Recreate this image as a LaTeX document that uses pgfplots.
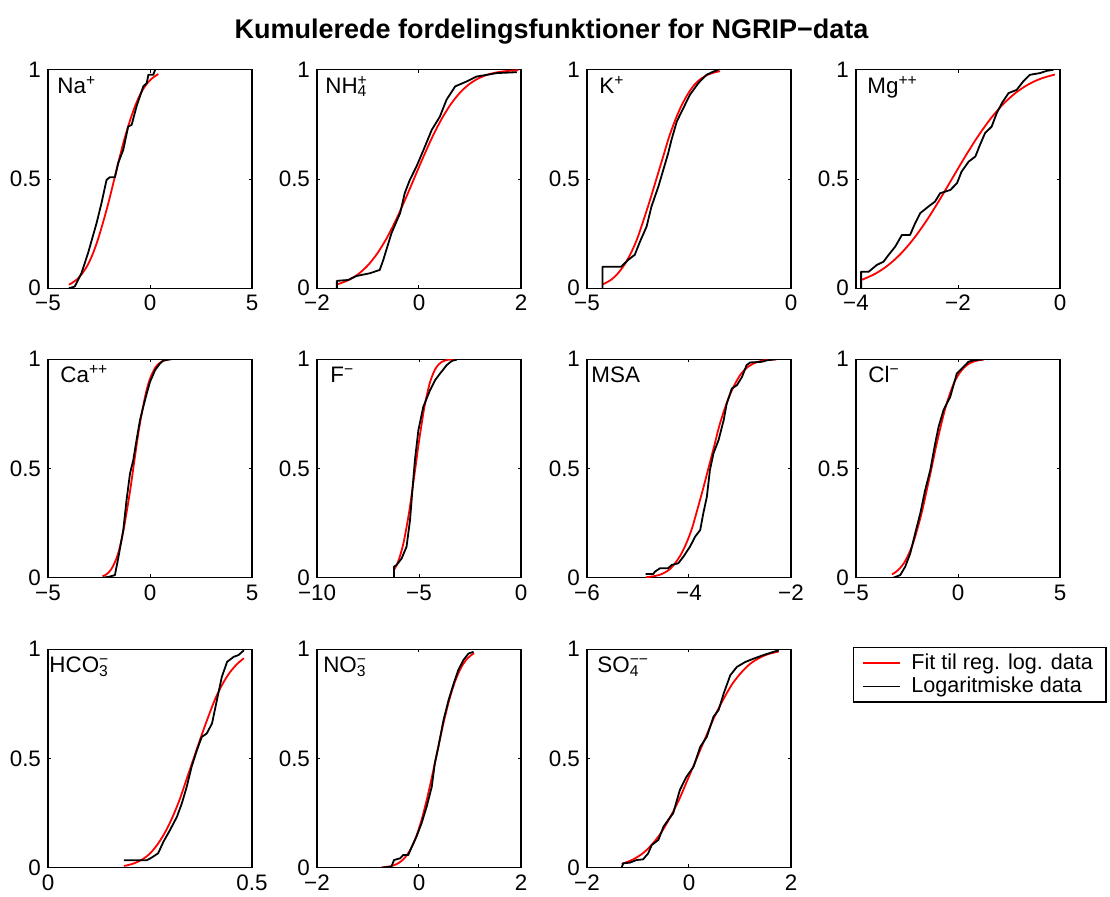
\documentclass[border=0pt]{standalone}
\usepackage{fontspec}
\setmainfont{Liberation Sans}
\usepackage{pgfplots}
\pgfplotsset{compat=1.18}

\newcommand\tfont{\fontsize{11.2}{13}\selectfont}
\newcommand\lfont{\fontsize{10.8}{12.5}\selectfont}

\pgfplotsset{
  panel/.style={
    scale only axis, width=102pt, height=109.25pt, anchor=south west,
    ymin=0, ymax=1, ytick={0,0.5,1}, yticklabels={0,0.5,1},
    tick align=inside, tick pos=both, major tick length=1.6pt,
    axis line style={line width=0.6pt},
    every tick/.style={black, line width=0.5pt},
    tick label style={font=\tfont},
    clip=true,
  },
  fit/.style={red, line width=0.9pt, smooth, no marks},
  emp/.style={black, line width=0.9pt, no marks, line join=round},
}
\tikzset{lbl/.style={anchor=base west, font=\tfont, inner sep=0pt}}

\begin{document}
\begin{tikzpicture}
\path[use as bounding box] (0,0) rectangle (555pt,448.5pt);

\node[anchor=base, font=\fontsize{13.5}{16}\selectfont\bfseries] at (275.75pt,429pt)
  {Kumulerede fordelingsfunktioner for NGRIP−data};

% ---------- row 1 ----------
\begin{axis}[panel, at={(24pt,304.35pt)}, xmin=-5, xmax=5,
  xtick={-5,0,5}, xticklabels={−5,0,5}]
\addplot[fit] coordinates {(-3.98,0.0168) (-3.85,0.02275) (-3.59,0.04006) (-3.33,0.06681)
 (-3.06,0.10565) (-2.80,0.15866) (-2.54,0.22663) (-2.28,0.30854) (-2.01,0.40129)
 (-1.75,0.5) (-1.49,0.59871) (-1.23,0.69146) (-0.96,0.77337) (-0.70,0.84134)
 (-0.44,0.89435) (-0.18,0.93319) (0.09,0.95994) (0.35,0.97725) (0.41,0.9802)};
\addplot[emp] coordinates {(-3.98,0) (-3.69,0.008) (-3.36,0.069) (-3.03,0.163) (-2.62,0.298)
 (-2.38,0.389) (-2.13,0.496) (-1.97,0.508) (-1.72,0.508) (-1.56,0.573) (-1.31,0.634)
 (-1.07,0.740) (-0.90,0.748) (-0.66,0.832) (-0.33,0.924) (-0.16,0.939) (-0.08,0.977)
 (0.16,0.977) (0.25,1.0)};
\node[lbl] at (axis description cs:0.044,0.892) {Na\textsuperscript{+}};
\end{axis}

\begin{axis}[panel, at={(158.5pt,304.35pt)}, xmin=-2, xmax=2,
  xtick={-2,0,2}, xticklabels={−2,0,2}]
\addplot[fit] coordinates {(-1.62,0.0174) (-1.54,0.02275) (-1.36,0.04006) (-1.18,0.06681)
 (-1.00,0.10565) (-0.82,0.15866) (-0.64,0.22663) (-0.46,0.30854) (-0.28,0.40129)
 (-0.10,0.5) (0.08,0.59871) (0.26,0.69146) (0.44,0.77337) (0.62,0.84134) (0.80,0.89435)
 (0.98,0.93319) (1.16,0.95994) (1.34,0.97725) (1.52,0.98778) (1.70,0.99379)
 (1.88,0.99702) (1.95,0.9978)};
\addplot[emp] coordinates {(-1.61,0) (-1.61,0.034) (-1.39,0.038) (-1.23,0.056) (-0.96,0.069)
 (-0.77,0.084) (-0.70,0.130) (-0.54,0.252) (-0.37,0.344) (-0.28,0.435) (-0.18,0.496)
 (-0.05,0.557) (0.09,0.634) (0.25,0.725) (0.41,0.786) (0.54,0.863) (0.71,0.924)
 (0.94,0.947) (1.13,0.969) (1.53,0.985) (1.92,0.989)};
\node[lbl] at (axis description cs:0.039,0.892) {NH\rlap{\textsuperscript{+}}\textsubscript{4}};
\end{axis}

\begin{axis}[panel, at={(293.5pt,304.35pt)}, xmin=-5, xmax=0,
  xtick={-5,0}, xticklabels={−5,0}]
\addplot[fit] coordinates {(-4.61,0.0188) (-4.56,0.02275) (-4.40,0.04006) (-4.25,0.06681)
 (-4.09,0.10565) (-3.93,0.15866) (-3.77,0.22663) (-3.62,0.30854) (-3.46,0.40129)
 (-3.30,0.5) (-3.14,0.59871) (-2.99,0.69146) (-2.83,0.77337) (-2.67,0.84134)
 (-2.51,0.89435) (-2.36,0.93319) (-2.20,0.95994) (-2.04,0.97725) (-1.88,0.98778)
 (-1.74,0.9934)};
\addplot[emp] coordinates {(-4.62,0) (-4.62,0.099) (-4.16,0.099) (-3.99,0.130) (-3.83,0.153)
 (-3.70,0.214) (-3.54,0.282) (-3.42,0.374) (-3.25,0.466) (-3.13,0.542) (-3.01,0.618)
 (-2.93,0.679) (-2.80,0.763) (-2.64,0.824) (-2.48,0.885) (-2.27,0.939) (-2.07,0.977)
 (-1.90,0.992) (-1.78,1.0)};
\node[lbl] at (axis description cs:0.059,0.892) {K\textsuperscript{+}};
\end{axis}

\begin{axis}[panel, at={(428pt,304.35pt)}, xmin=-4, xmax=0,
  xtick={-4,-2,0}, xticklabels={−4,−2,0}]
\addplot[fit] coordinates {(-3.88,0.0392) (-3.62,0.06681) (-3.37,0.10565) (-3.12,0.15866)
 (-2.87,0.22663) (-2.62,0.30854) (-2.37,0.40129) (-2.12,0.5) (-1.87,0.59871)
 (-1.62,0.69146) (-1.37,0.77337) (-1.12,0.84134) (-0.87,0.89435) (-0.62,0.93319)
 (-0.37,0.95994) (-0.10,0.9783)};
\addplot[emp] coordinates {(-3.90,0) (-3.90,0.076) (-3.75,0.076) (-3.59,0.107) (-3.46,0.122)
 (-3.36,0.153) (-3.23,0.191) (-3.10,0.244) (-2.94,0.244) (-2.84,0.298) (-2.74,0.344)
 (-2.58,0.374) (-2.45,0.397) (-2.35,0.435) (-2.15,0.450) (-2.02,0.481) (-1.93,0.534)
 (-1.79,0.580) (-1.66,0.603) (-1.57,0.656) (-1.47,0.710) (-1.34,0.740) (-1.24,0.802)
 (-1.14,0.847) (-1.01,0.893) (-0.85,0.908) (-0.72,0.947) (-0.59,0.977) (-0.39,0.985)
 (-0.26,0.995) (-0.13,1.0)};
\node[lbl] at (axis description cs:0.054,0.892) {Mg\textsuperscript{++}};
\end{axis}

% ---------- row 2 ----------
\begin{axis}[panel, at={(24pt,159.65pt)}, xmin=-5, xmax=5,
  xtick={-5,0,5}, xticklabels={−5,0,5}]
\addplot[fit] coordinates {(-2.33,0.0067) (-2.19,0.01222) (-2.04,0.02275) (-1.89,0.04006)
 (-1.74,0.06681) (-1.58,0.10565) (-1.43,0.15866) (-1.28,0.22663) (-1.13,0.30854)
 (-0.97,0.40129) (-0.82,0.5) (-0.67,0.59871) (-0.52,0.69146) (-0.36,0.77337)
 (-0.21,0.84134) (-0.06,0.89435) (0.10,0.93319) (0.25,0.95994) (0.40,0.97725)
 (0.55,0.98778) (0.71,0.99379) (0.90,0.9976)};
\addplot[emp] coordinates {(-2.30,0) (-1.97,0.005) (-1.72,0.012) (-1.56,0.088) (-1.31,0.218)
 (-1.15,0.355) (-0.98,0.477) (-0.82,0.538) (-0.66,0.630) (-0.49,0.721) (-0.33,0.782)
 (-0.16,0.843) (0.0,0.896) (0.25,0.950) (0.49,0.980) (0.66,0.995) (1.07,1.0)};
\node[lbl] at (axis description cs:0.059,0.892) {Ca\textsuperscript{++}};
\end{axis}

\begin{axis}[panel, at={(158.5pt,159.65pt)}, xmin=-10, xmax=0,
  xtick={-10,-5,0}, xticklabels={−10,−5,0}]
\addplot[fit] coordinates {(-6.20,0.0393) (-6.05,0.06681) (-5.91,0.10565) (-5.76,0.15866)
 (-5.62,0.22663) (-5.47,0.30854) (-5.33,0.40129) (-5.18,0.5) (-5.04,0.59871)
 (-4.89,0.69146) (-4.75,0.77337) (-4.60,0.84134) (-4.46,0.89435) (-4.31,0.93319)
 (-4.17,0.95994) (-4.02,0.97725) (-3.88,0.98778) (-3.73,0.99379) (-3.59,0.99702)
 (-3.44,0.99865) (-3.23,0.9996)};
\addplot[emp] coordinates {(-6.23,0) (-6.23,0.050) (-6.10,0.058) (-5.85,0.088) (-5.61,0.142)
 (-5.44,0.264) (-5.31,0.416) (-5.20,0.538) (-5.03,0.675) (-4.79,0.782) (-4.46,0.858)
 (-4.21,0.904) (-3.97,0.934) (-3.64,0.973) (-3.39,0.992) (-3.15,0.998)};
\node[lbl] at (axis description cs:0.064,0.892) {F\textsuperscript{−}};
\end{axis}

\begin{axis}[panel, at={(293.5pt,159.65pt)}, xmin=-6, xmax=-2,
  xtick={-6,-4,-2}, xticklabels={−6,−4,−2}]
\addplot[fit] coordinates {(-4.85,0.0021) (-4.80,0.00298) (-4.70,0.00621) (-4.59,0.01222)
 (-4.48,0.02275) (-4.37,0.04006) (-4.27,0.06681) (-4.16,0.10565) (-4.05,0.15866)
 (-3.94,0.22663) (-3.84,0.30854) (-3.73,0.40129) (-3.62,0.5) (-3.51,0.59871)
 (-3.41,0.69146) (-3.30,0.77337) (-3.19,0.84134) (-3.08,0.89435) (-2.98,0.93319)
 (-2.87,0.95994) (-2.76,0.97725) (-2.65,0.98778) (-2.55,0.99379) (-2.44,0.99702)
 (-2.29,0.999)};
\addplot[emp] coordinates {(-4.85,0.017) (-4.70,0.017) (-4.67,0.027) (-4.57,0.043) (-4.41,0.043)
 (-4.34,0.058) (-4.21,0.066) (-4.11,0.096) (-3.98,0.142) (-3.88,0.188) (-3.78,0.218)
 (-3.72,0.294) (-3.65,0.370) (-3.59,0.492) (-3.52,0.569) (-3.42,0.630) (-3.32,0.721)
 (-3.26,0.797) (-3.16,0.866) (-3.06,0.881) (-2.96,0.919) (-2.87,0.973) (-2.80,0.985)
 (-2.57,0.988) (-2.47,0.995) (-2.29,1.0)};
\node[lbl] at (axis description cs:0.020,0.892) {MSA};
\end{axis}

\begin{axis}[panel, at={(428pt,159.65pt)}, xmin=-5, xmax=5,
  xtick={-5,0,5}, xticklabels={−5,0,5}]
\addplot[fit] coordinates {(-3.24,0.0155) (-3.10,0.02275) (-2.88,0.04006) (-2.65,0.06681)
 (-2.43,0.10565) (-2.20,0.15866) (-1.98,0.22663) (-1.75,0.30854) (-1.53,0.40129)
 (-1.30,0.5) (-1.08,0.59871) (-0.85,0.69146) (-0.63,0.77337) (-0.40,0.84134)
 (-0.18,0.89435) (0.05,0.93319) (0.28,0.95994) (0.50,0.97725) (0.73,0.98778)
 (0.95,0.99379) (1.25,0.9977)};
\addplot[emp] coordinates {(-3.16,0) (-2.83,0.012) (-2.59,0.050) (-2.34,0.111) (-2.10,0.203)
 (-1.85,0.294) (-1.61,0.401) (-1.36,0.492) (-1.12,0.614) (-0.95,0.691) (-0.71,0.767)
 (-0.38,0.828) (-0.06,0.934) (0.19,0.957) (0.51,0.988) (0.76,0.995) (1.25,1.0)};
\node[lbl] at (axis description cs:0.059,0.892) {Cl\textsuperscript{−}};
\end{axis}

% ---------- row 3 ----------
\begin{axis}[panel, at={(24pt,14.65pt)}, xmin=0, xmax=0.5,
  xtick={0,0.5}, xticklabels={0,0.5}]
\addplot[fit] coordinates {(0.186,0.008) (0.197,0.01222) (0.215,0.02275) (0.233,0.04006)
 (0.251,0.06681) (0.268,0.10565) (0.286,0.15866) (0.304,0.22663) (0.322,0.30854)
 (0.339,0.40129) (0.357,0.5) (0.375,0.59871) (0.393,0.69146) (0.410,0.77337)
 (0.428,0.84134) (0.446,0.89435) (0.464,0.93319) (0.480,0.9584)};
\addplot[emp] coordinates {(0.186,0.034) (0.242,0.034) (0.254,0.046) (0.270,0.066) (0.283,0.119)
 (0.299,0.172) (0.316,0.233) (0.328,0.294) (0.340,0.370) (0.352,0.462) (0.365,0.538)
 (0.377,0.599) (0.389,0.614) (0.402,0.660) (0.414,0.767) (0.426,0.873) (0.439,0.942)
 (0.455,0.965) (0.467,0.973) (0.480,0.995)};
\node[lbl] at (axis description cs:0.005,0.892) {HCO\rlap{\textsuperscript{−}}\textsubscript{3}};
\end{axis}

\begin{axis}[panel, at={(158.5pt,14.65pt)}, xmin=-2, xmax=2,
  xtick={-2,0,2}, xticklabels={−2,0,2}]
\addplot[fit] coordinates {(-0.73,0.0016) (-0.66,0.00298) (-0.57,0.00621) (-0.48,0.01222)
 (-0.39,0.02275) (-0.30,0.04006) (-0.21,0.06681) (-0.12,0.10565) (-0.03,0.15866)
 (0.06,0.22663) (0.15,0.30854) (0.24,0.40129) (0.33,0.5) (0.42,0.59871) (0.51,0.69146)
 (0.60,0.77337) (0.69,0.84134) (0.78,0.89435) (0.87,0.93319) (0.96,0.95994)
 (1.05,0.97725) (1.08,0.9814)};
\addplot[emp] coordinates {(-0.73,0) (-0.54,0.005) (-0.49,0.035) (-0.37,0.043) (-0.31,0.058)
 (-0.21,0.058) (-0.14,0.096) (-0.05,0.142) (0.05,0.203) (0.15,0.279) (0.25,0.370)
 (0.31,0.477) (0.38,0.553) (0.48,0.675) (0.58,0.767) (0.68,0.843) (0.77,0.904)
 (0.87,0.950) (0.97,0.980) (1.07,0.988)};
\node[lbl] at (axis description cs:0.029,0.892) {NO\rlap{\textsuperscript{−}}\textsubscript{3}};
\end{axis}

\begin{axis}[panel, at={(293.5pt,14.65pt)}, xmin=-2, xmax=2,
  xtick={-2,0,2}, xticklabels={−2,0,2}]
\addplot[fit] coordinates {(-1.32,0.0179) (-1.25,0.02275) (-1.08,0.04006) (-0.90,0.06681)
 (-0.73,0.10565) (-0.55,0.15866) (-0.38,0.22663) (-0.20,0.30854) (-0.03,0.40129)
 (0.15,0.5) (0.33,0.59871) (0.50,0.69146) (0.68,0.77337) (0.85,0.84134) (1.03,0.89435)
 (1.20,0.93319) (1.38,0.95994) (1.55,0.97725) (1.73,0.98778) (1.76,0.9893)};
\addplot[emp] coordinates {(-1.32,0) (-1.29,0.020) (-1.16,0.023) (-1.03,0.035) (-0.90,0.038)
 (-0.80,0.066) (-0.73,0.104) (-0.60,0.127) (-0.50,0.188) (-0.41,0.218) (-0.31,0.249)
 (-0.18,0.355) (-0.05,0.416) (0.09,0.462) (0.22,0.553) (0.35,0.599) (0.48,0.691)
 (0.58,0.721) (0.68,0.797) (0.81,0.881) (0.94,0.919) (1.10,0.941) (1.27,0.957)
 (1.46,0.973) (1.66,0.988) (1.76,0.995)};
\node[lbl] at (axis description cs:0.049,0.892) {SO\rlap{\textsuperscript{−−}}\textsubscript{4}};
\end{axis}

% ---------- legend ----------
\begin{axis}[at={(428pt,14.65pt)}, anchor=south west, scale only axis,
  width=102pt, height=109.25pt, hide axis, xmin=0, xmax=1, ymin=0, ymax=1,
  legend style={at={(axis description cs:-0.015,1.009)}, anchor=north west,
    draw=black, line width=0.6pt, font=\lfont, cells={anchor=west},
    inner xsep=4.5pt, inner ysep=1.8pt, nodes={inner xsep=2pt, inner ysep=1.2pt},
    /tikz/column sep=3pt},
  legend image code/.code={\draw[#1] (0pt,0pt) -- (18.5pt,0pt);}]
\addlegendimage{red, line width=0.9pt}
\addlegendentry{Fit til reg. log. data}
\addlegendimage{black, line width=0.9pt}
\addlegendentry{Logaritmiske data}
\end{axis}
\end{tikzpicture}
\end{document}
